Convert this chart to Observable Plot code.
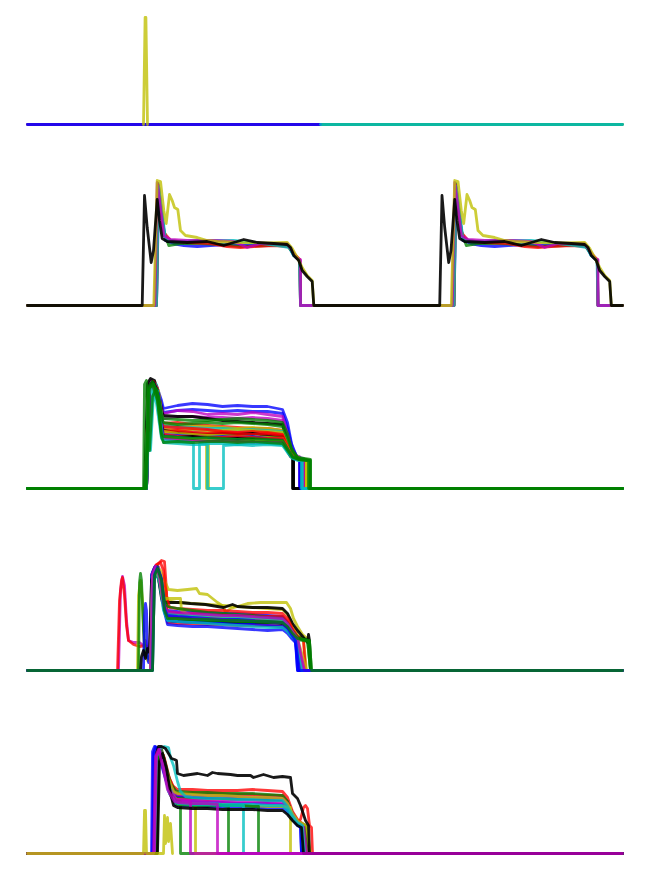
<!DOCTYPE html>
<html><head><meta charset="utf-8">
<script src="https://cdn.jsdelivr.net/npm/d3@7"></script>
<script src="https://cdn.jsdelivr.net/npm/@observablehq/plot@0.6"></script>
<style>
html,body{margin:0;padding:0;background:#fff;}
#chart{position:relative;width:664px;height:882px;overflow:hidden;background:#fff;}
#chart svg{position:absolute;left:0;overflow:visible;}
</style></head><body><div id="chart"></div>
<script>
// colour codes (classic b g r c m y k cycle)
const colorCodes = {b:"#0000ff", g:"#008000", r:"#ff0000", c:"#00bfbf", m:"#bf00bf", y:"#bfbf00", k:"#000000"};
const xMax = 595;              // sample index range
const panelMax = [107, 125, 111, 110, 107];   // amplitude range of each panel

// Panel 1
const p1Colors = ["g","m","b","c","y"];
const p1Series = [
  "0 0 595 0",
  "0 0 293 0",
  "0 0 293 0",
  "293 0 595 0",
  "116 0 117.6 107 118.4 107 120 0"
];

// Panel 2 (one cycle, repeated after p2Period)
const p2Period = 297.5;
const p2Colors = ["b","g","r","c","m","y","k"];
const p2Series = [
  "0 0 129 0 131.3 118 134.7 88 138 65 146.3 61.7 156.3 60 169.7 59 183 60 199.7 61 223 60 246.3 61 261.3 59 266.3 50 272.3 45 273 0",
  "0 0 129 0 130.7 122 136.3 75 141.3 60 153 62 173 62 193 61 213 59 239.7 60 259.7 60 265.7 52 272.3 45 273 0",
  "0 0 129 0 130.7 120 136.3 73 143 65 159.7 63 183 62 199.7 59 213 58 226.3 59 246.3 60 261.3 59 266.3 52 272.3 46 273 0",
  "0 0 129 0 131 119 135 90 138 66 150 64 170 65 190 65 206 65 225 63 250 60 262 58 266 50 272 45 273 0",
  "0 0 127.3 0 129.7 123 133 98 136.3 70 143 66 159.7 65 186.3 65 206.3 64 219.7 58 233 62 259.7 62 264.7 55 269.7 47 273 46 273 0",
  "0 0 126.3 0 129.7 125 133 124 136.3 95 138.7 82 142 111 144.7 105 147 98 150.3 96 153 75 158 70 169.7 68 179.7 65 189.7 64 213 63 239.7 62.7 259.7 63 264.7 57 269.7 48 274.7 38 279.7 30 284.7 25 286.3 0",
  "0 0 114.7 0 117 110 119.7 78 123.7 43 126 55 129.7 106 132 85 134.7 67 139.7 64 159.7 63 179.7 64 196.3 60 216.3 66 229.7 63 246.3 62 259.7 61 263 58 266.3 50 271.3 45 274.7 35 279.7 29 284.7 24 286.3 0"
];

// Panel 3
const p3Colors = ["b","b","m","m","k","r","y","c","m","y","r","k","r","y","b","r","k","c","b","y","m","c","c","g","g","g","g"];
const p3Series = [
  "0,0 118,0 121,100 125,106 129,103 134,88 136,80 150,83 165,85 180,84 195,82 210,83 225,82 240,82 255,79 260,66 264,45 269,32 273,30 273,0 595,0",
  "0,0 119,0 122,102 126,107 130,98 135,80 136,76 150,78 165,79 180,78 195,77 210,78 225,77 240,77 255,75 260,60 265,40 270,31 275,30 275,0 595,0",
  "0,0 118,0 121,104 124,108 128,100 134,80 136,75 150,78 165,77 180,74 195,75 210,74 225,76 240,74 255,72 259,58 264,40 268,33 272,32 272,0 595,0",
  "0,0 119,0 122,103 126,106 131,95 135,74 136,70 150,72 165,72 180,71 195,71 210,70 225,71 240,70 255,68 259,55 264,38 270,31 276,30 276,0 595,0",
  "0,0 117,0 120,105 123,110 127,108 131,95 135,75 136,73 150,72 165,72 180,70 195,68 210,67 225,66 240,65 255,64 259,50 263,36 265,33 265,0 595,0",
  "0,0 118,0 121,100 125,105 130,96 134,70 136,65 150,66 165,64 180,63 195,62 210,61 225,60 240,60 255,58 259,48 264,36 270,30 277,29 277,0 595,0",
  "0,0 119,0 122,98 126,106 131,98 135,68 136,64 150,63 165,62 180,62 195,61 210,60 225,61 240,60 255,58 260,47 265,35 272,30 279,29 279,0 595,0",
  "0,0 118,0 120,60 122,40 125,96 129,104 133,80 136,63 150,62 165,61 180,60 195,60 210,59 225,59 240,58 255,57 260,47 265,36 271,31 276,30 276,0 595,0",
  "0,0 119,0 122,100 126,105 131,92 135,64 136,60 150,59 165,58 180,58 195,57 210,56 225,56 240,55 255,54 260,44 265,34 271,30 275,29 275,0 595,0",
  "0,0 118,0 121,98 125,104 130,94 135,62 136,60 150,58 165,59 180,57 195,58 210,59 225,58 240,57 255,56 260,45 265,35 272,30 279,28 279,0 595,0",
  "0,0 119,0 122,100 126,107 130,100 134,66 136,62 150,61 165,60 180,59 195,57 210,56 225,57 240,56 255,54 259,44 264,34 270,30 274,29 274,0 595,0",
  "0,0 118,0 121,102 125,107 130,98 134,62 136,58 150,56 165,55 180,54 195,55 210,54 225,55 240,53 255,52 259,42 263,33 266,31 266,0 595,0",
  "0,0 119,0 122,99 126,104 131,90 135,60 136,57 150,58 165,56 180,55 195,56 210,55 225,54 240,55 255,53 260,43 265,33 271,30 276,29 276,0 595,0",
  "0,0 118,0 121,97 125,103 130,92 134,60 136,57 150,55 165,54 180,53 195,53 210,52 225,52 240,51 255,50 260,41 265,33 272,29 279,28 279,0 595,0",
  "0,0 119,0 122,101 126,106 131,95 135,58 136,54 150,53 165,52 180,51 195,52 210,51 225,52 240,50 255,49 259,40 264,32 269,29 272,29 272,0 595,0",
  "0,0 118,0 121,98 125,104 130,90 134,57 136,54 150,52 165,52 180,51 195,51 210,52 225,51 240,50 255,50 260,40 265,32 271,29 275,28 275,0 595,0",
  "0,0 119,0 122,100 126,106 130,96 135,55 136,52 150,51 165,52 180,50 195,49 210,50 225,49 240,48 255,47 259,39 263,32 266,30 266,0 595,0",
  "0,0 118,0 121,96 125,102 130,88 134,54 136,52 150,51 165,50 180,50 195,49 210,49 225,48 240,48 255,47 260,39 265,31 270,29 274,29 274,0 595,0",
  "0,0 119,0 122,99 126,104 131,92 135,53 136,50 150,49 165,48 180,48 195,47 210,48 225,47 240,46 255,46 260,38 265,31 270,29 273,29 273,0 595,0",
  "0,0 118,0 121,95 125,101 130,86 134,53 136,51 150,50 165,49 179,49 179,0 181,0 181,48 195,48 210,47 225,48 240,47 255,47 260,38 265,31 272,28 279,28 279,0 595,0",
  "0,0 119,0 122,98 126,103 131,88 135,52 136,50 150,48 165,48 180,47 195,48 210,47 225,46 240,46 255,46 260,38 265,31 270,29 276,28 276,0 595,0",
  "0,0 118,0 121,94 124,100 129,85 134,50 136,48 150,47 165,46 166,46 166,0 172,0 172,45 180,45 195,45 210,44 225,45 240,45 255,44 260,37 265,31 271,29 275,29 275,0 595,0",
  "0,0 119,0 121,56 123,38 126,94 130,98 134,60 136,46 150,45 165,44 180,44 180,0 196,0 196,43 210,44 225,43 240,44 255,43 260,36 265,30 270,28 274,28 274,0 595,0",
  "0,0 118,0 121,102 125,107 130,96 134,72 136,70 150,69 165,68 180,68 195,69 210,70 225,69 240,68 255,66 260,55 264,40 270,31 283,29 283,0 595,0",
  "0,0 119,0 122,100 126,105 131,92 135,68 136,66 150,64 165,65 180,66 195,65 210,66 225,65 240,64 255,62 260,50 265,37 271,30 282,28 282,0 595,0",
  "0,0 118,0 121,99 125,104 130,88 134,55 136,52 150,51 165,50 180,51 195,50 210,49 225,50 240,49 255,48 260,40 265,32 271,29 281,28 281,0 595,0",
  "0,0 116,0 117,104 119,108 122,38 125,92 129,100 134,52 136,46 150,47 165,46 180,47 195,47 210,46 225,47 240,46 255,45 260,38 265,31 271,29 283,28 283,0 595,0"
];

// Panel 4
const p4Colors = ["m","r","y","y","g","b","k","k","r","r","r","b","b","g","c","m","y","g","c","m","b","g"];
const p4Series = [
  "0 0 91 0 93 80 95 94 97 85 99 50 101 30 106 28 112 28 116 25 118 30 120 20 123 22 125 98 128 105 131 104 134 90 137 70 140 56 150 55 165 54 180 54 195 53 210 53 225 52 240 52 255 51 260 46 265 38 270 30 274 0 595 0",
  "0 0 90 0 92 70 94 90 95 93 97 75 99 45 101 30 106 26 112 24 118 25 121 22 122 20 124 60 126 100 130 106 134 110 137 109 139 80 140 48 150 47 165 47 180 46 195 46 210 45 225 45 240 45 255 44 260 40 264 34 269 28 272 0 595 0",
  "0 0 110 0 111 75 113 90 115 70 117 20 120 10 123 15 125 95 128 102 132 96 136 85 140 70 150 68 165 67 180 66 195 65 210 64 225 63 240 62 255 61 260 56 265 45 270 36 276 30 279 0 595 0",
  "0 0 124 0 126 98 129 104 133 100 137 90 141 81 150 80 160 81 169 82 172 77 180 76 190 68 196 64 198 58 203 62 210 64 220 67 233 68 245 68 259 68 263 62 266 52 270 44 275 36 281 31 283 0 595 0",
  "0 0 111 0 112 88 113 97 114 90 116 40 118 15 121 12 123 18 124 95 127 103 130 100 134 80 137 64 140 58 150 57 165 56 180 56 195 55 210 55 225 55 240 54 255 53 260 48 265 40 270 34 280 31 283 0 595 0",
  "0 0 116 0 117 55 118 67 119 60 120 20 121 8 123 10 124 96 127 103 131 92 135 70 138 62 140 60 150 59 165 58 180 58 195 57 210 57 225 56 240 55 255 54 260 48 264 40 268 33 270 0 595 0",
  "0 0 113 0 114 14 116 20 118 12 120 22 122 18 124 90 127 100 131 92 134 72 135 68 153 68 163 67 178 66 196 63 202 65 205 66 210 64 225 63 240 63 255 62 260 57 265 47 270 40 276 33 280 28 281 36 282 30 283 0 595 0",
  "0 0 123 0 125 95 128 102 132 90 137 60 140 50 150 49 165 49 180 48 195 48 210 48 225 48 240 48 255 47 260 43 265 36 270 30 275 0 595 0",
  "0 0 124 0 126 97 129 106 133 108 136 100 139 75 142 63 150 62 165 61 180 60 195 60 210 59 225 58 240 58 255 57 260 52 265 42 270 34 276 30 278 0 595 0",
  "0 0 123 0 125 96 128 104 132 95 136 70 140 58 150 57 165 57 180 56 195 56 210 55 225 55 240 54 255 54 260 49 265 40 270 33 275 0 595 0",
  "0 0 124 0 126 94 129 103 133 92 137 65 140 53 150 54 165 53 180 52 195 52 210 53 225 52 240 51 255 50 260 45 265 37 270 31 274 0 595 0",
  "0 0 123 0 125 97 128 104 132 94 136 62 140 50 150 49 165 48 180 48 195 47 210 46 225 46 240 45 255 44 260 40 264 34 268 29 271 0 595 0",
  "0 0 124 0 126 95 129 102 133 90 137 58 140 46 150 45 165 44 180 44 195 43 210 42 225 41 240 40 255 41 260 37 264 32 268 28 270 0 595 0",
  "0 0 124 0 126 96 129 103 133 92 137 63 140 53 150 52 165 51 180 50 195 50 210 49 225 49 240 48 255 48 260 44 265 37 270 31 282 29 284 0 595 0",
  "0 0 123 0 125 93 128 100 132 88 136 60 140 50 150 49 165 48 180 47 195 46 210 45 225 44 240 43 255 43 260 39 265 33 270 28 274 0 595 0",
  "0 0 124 0 126 96 129 104 133 95 137 62 140 54 150 53 165 52 180 52 195 51 210 50 225 50 240 49 255 48 260 44 265 37 270 31 276 0 595 0",
  "0 0 123 0 125 94 128 101 132 92 135 72 153 72 154 60 165 54 180 53 195 53 210 52 225 51 240 50 255 50 260 45 265 38 270 32 279 0 595 0",
  "0 0 125 0 127 97 130 104 134 90 137 70 140 64 150 62 165 60 180 58 195 57 210 56 225 55 240 53 255 52 260 47 265 39 270 33 280 30 283 0 595 0",
  "0 0 124 0 126 95 129 102 133 90 137 62 140 57 150 56 165 55 180 55 195 54 210 53 225 53 240 52 255 51 260 46 265 38 270 31 275 0 595 0",
  "0 0 123 0 125 97 128 104 132 94 136 66 140 59 150 58 165 57 180 56 195 55 210 55 225 54 240 53 255 52 260 47 265 39 270 32 277 0 595 0",
  "0 0 125 0 127 96 130 103 134 92 137 62 140 55 150 54 165 53 180 52 195 51 210 51 225 50 240 49 255 48 260 43 264 36 268 30 272 0 595 0",
  "0 0 125 0 127 95 130 102 134 90 137 60 140 52 150 52 165 51 180 51 195 50 210 50 225 49 240 49 255 48 260 44 265 37 270 32 282 30 284 0 595 0"
];

// Panel 5
const p5Colors = ["r","r","r","g","g","b","b","b","m","m","y","y","c","c","k","g","y","g","g","c","m","k","m","y"];
const p5Series = [
  "0 0 127 0 129 95 132 104 136 98 140 80 145 68 150 64 165 64 180 63 195 63 210 63 225 64 240 63 255 62 260 56 265 42 270 34 275 30 278 27 280 0 595 0",
  "0 0 128 0 130 96 133 105 137 95 142 75 148 62 150 60 165 61 180 60 195 60 210 59 225 59 240 58 255 58 260 52 264 42 270 33 273 34 276 46 278 48 280 45 282 28 284 26 285 0 595 0",
  "0 0 126 0 128 94 131 103 135 92 140 70 146 57 150 55 165 55 180 54 195 55 210 54 225 54 240 53 255 53 260 47 265 38 270 30 276 27 277 0 595 0",
  "0 0 129 0 131 98 134 104 138 90 143 70 148 63 150 62 165 61 180 61 195 60 210 60 225 60 240 59 255 58 260 52 265 40 270 32 278 28 281 0 595 0",
  "0 0 127 0 129 93 132 102 136 88 142 64 148 58 150 57 165 56 180 56 195 55 210 55 225 55 240 54 255 54 260 48 265 38 270 31 276 28 278 0 595 0",
  "0 0 125 0 126 100 128 107 132 104 136 92 140 75 145 62 150 58 165 57 180 56 195 57 210 56 225 55 240 55 255 54 260 48 265 38 270 30 274 27 275 0 595 0",
  "0 0 124 0 125 102 127 107 131 103 135 85 140 68 146 55 150 52 165 52 180 51 195 51 210 50 225 50 240 50 255 49 260 44 265 36 270 29 273 27 274 0 595 0",
  "0 0 126 0 127 101 129 106 133 96 137 80 142 60 148 49 150 48 165 48 180 47 195 47 210 47 225 46 240 46 255 46 260 41 265 34 270 28 273 26 274 0 595 0",
  "0 0 127 0 129 99 132 105 136 94 141 72 147 60 150 59 165 58 180 58 195 57 210 57 225 56 240 56 255 55 260 50 265 40 270 32 276 28 279 0 595 0",
  "0 0 128 0 130 97 133 104 137 90 142 68 148 55 150 54 165 53 180 53 195 52 210 52 225 52 240 51 255 51 260 46 265 37 270 30 275 27 277 0 595 0",
  "0 0 128 0 130 95 133 102 137 90 141 75 146 62 150 60 165 59 180 58 195 58 210 57 225 56 240 56 255 55 260 50 265 40 271 32 279 28 283 0 595 0",
  "0 0 129 0 131 94 134 100 138 85 143 62 148 51 150 50 165 50 180 49 195 49 210 48 225 48 240 47 255 47 263 46 263 0 595 0",
  "0 0 129 0 131 100 133 106 137 107 141 106 143 96 146 88 150 72 153 62 158 57 165 56 180 55 195 55 210 54 225 54 240 53 255 53 260 47 265 38 270 31 275 28 277 0 595 0",
  "0 0 128 0 130 96 133 103 137 88 142 66 148 53 150 51 165 50 180 50 195 49 210 49 225 49 240 48 255 48 260 43 265 35 270 29 274 27 276 0 595 0",
  "0 0 127 0 129 100 131 107 134 107 138 105 141 100 144 95 147 94 149 93 150 80 156 78 163 79 170 80 175 79 180 78 185 81 190 80 203 79 210 78 223 78 226 76 236 79 246 76 255 77 263 76 265 60 270 55 273 48 278 33 281 28 282 0 595 0",
  "0 0 128 0 130 96 133 103 137 87 142 63 148 53 153 52 153 0 595 0",
  "0 0 129 0 131 90 134 99 138 80 143 58 149 50 150 49 165 49 168 49 168 0 595 0",
  "0 0 129 0 131 94 134 101 138 84 143 60 149 50 150 49 165 48 180 48 195 48 201 47 201 0 595 0",
  "0 0 128 0 130 95 133 102 137 86 142 62 149 51 150 50 165 49 180 49 195 48 210 48 225 47 231 47 231 0 595 0",
  "0 0 127 0 129 97 132 103 136 86 141 62 148 51 150 50 165 49 180 49 195 48 210 48 216 48 216 0 595 0",
  "0 0 127 0 129 98 132 104 136 90 141 66 148 54 150 53 163 52 163 0 595 0",
  "0 0 130 0 132 92 135 100 139 85 143 60 146 48 150 46 165 45 180 45 195 44 210 44 225 44 240 43 255 43 260 39 265 33 270 28 274 26 276 0 595 0",
  "0 0 126 0 128 97 131 104 135 88 140 64 147 52 150 51 165 50 180 50 190 49 190 0 595 0",
  "0 0 116 0 117 43 118 43 119 0 136 0 137 38 138 10 140 36 141 12 143 30 145 0"
];

const panelTops = [17, 180, 377, 560, 746];

function parse(str) {
  const v = str.trim().split(/[\s,]+/).map(Number);
  const pts = [];
  for (let i = 0; i < v.length; i += 2) pts.push([v[i], v[i + 1]]);
  return pts;
}

function rowsFor(colors, series, repeat) {
  const rows = [];
  series.forEach((s, i) => {
    let pts = parse(s);
    if (repeat) {
      pts = pts.concat(pts.map(([x, y]) => [x + repeat, y]));
      pts.push([xMax, 0]);
    }
    const code = colors[i];
    pts.forEach(([x, y]) => rows.push({s: i, x, y, c: colorCodes[code], o: code === "k" ? 0.9 : 0.78}));
  });
  return rows;
}

const panels = [
  rowsFor(p1Colors, p1Series, 0),
  rowsFor(p2Colors, p2Series, p2Period),
  rowsFor(p3Colors, p3Series, 0),
  rowsFor(p4Colors, p4Series, 0),
  rowsFor(p5Colors, p5Series, 0)
];

const chart = document.getElementById("chart");
panels.forEach((rows, k) => {
  const H = panelMax[k];
  const svg = Plot.plot({
    width: 664, height: H,
    marginTop: 0, marginBottom: 0, marginLeft: 27, marginRight: 42,
    x: {domain: [0, xMax], axis: null},
    y: {domain: [0, H], axis: null},
    color: {type: "identity"},
    opacity: {type: "identity"},
    style: {background: "transparent", overflow: "visible"},
    marks: [
      Plot.line(rows, {x: "x", y: "y", z: "s", stroke: "c", strokeOpacity: "o", strokeWidth: 2.8})
    ]
  });
  svg.style.top = panelTops[k] + "px";
  chart.appendChild(svg);
});
</script></body></html>
